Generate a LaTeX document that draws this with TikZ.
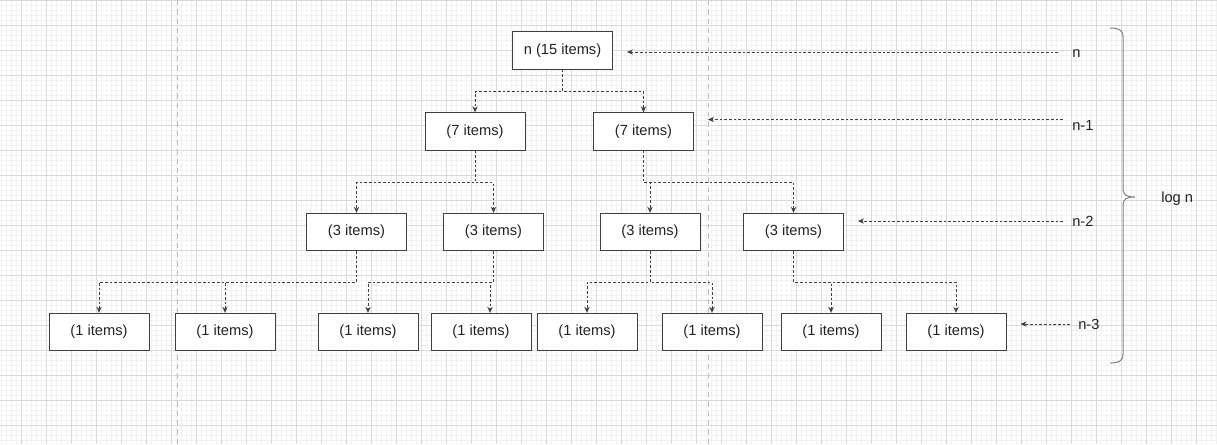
\documentclass[tikz,border=0pt]{standalone}
\usepackage{fontspec}
\setmainfont{Liberation Sans}
\usetikzlibrary{arrows.meta}
\definecolor{minorgrid}{HTML}{F2F2F2}
\definecolor{majorgrid}{HTML}{DADADA}
\definecolor{txt}{HTML}{222222}
\tikzset{
  boxnode/.style={draw=black!75, fill=white, line width=0.75pt, minimum width=75pt, minimum height=28pt, inner sep=0pt, font=\fontsize{11pt}{13pt}\selectfont, text=txt},
  conn/.style={draw=black!75, line width=0.75pt, dash pattern=on 2pt off 1.5pt, -{Stealth[length=4.5pt,width=4pt]}},
  lbl/.style={inner sep=0pt, font=\fontsize{11pt}{13pt}\selectfont, text=txt},
  minorline/.style={draw=minorgrid, line width=0.6pt},
  majorline/.style={draw=majorgrid, line width=0.75pt},
  guide/.style={draw=black!25, line width=0.75pt, dash pattern=on 4pt off 3pt},
  bracestyle/.style={draw=black!50, line width=0.75pt}
}
\begin{document}
\begin{tikzpicture}[x=0.75pt,y=-0.75pt]
\useasboundingbox (0,0) rectangle (1217,444);
\fill[white] (0,0) rectangle (1217,444);
% grid
\foreach \i in {1,6,...,1216} \draw[minorline] (\i,0) -- (\i,444);
\foreach \j in {5,10,...,444} \draw[minorline] (0,\j) -- (1217,\j);
\foreach \i in {21,46,...,1217} \draw[majorline] (\i,0) -- (\i,444);
\foreach \j in {0,25,...,444} \draw[majorline] (0,\j) -- (1217,\j);
\draw[guide] (177,0) -- (177,444);
\draw[guide] (708,0) -- (708,444);

% tree nodes
\node[boxnode] (top) at (562.5,50.5) {n (15 items)};
\node[boxnode] (l1a) at (475,131.5) {(7 items)};
\node[boxnode] (l1b) at (643.5,131.5) {(7 items)};
\node[boxnode] (l2a) at (356.5,232) {(3 items)};
\node[boxnode] (l2b) at (493.5,232) {(3 items)};
\node[boxnode] (l2c) at (650,232) {(3 items)};
\node[boxnode] (l2d) at (793.5,232) {(3 items)};
\node[boxnode] (l3a) at (99,332) {(1 items)};
\node[boxnode] (l3b) at (225,332) {(1 items)};
\node[boxnode] (l3c) at (368,332) {(1 items)};
\node[boxnode] (l3d) at (481,332) {(1 items)};
\node[boxnode] (l3e) at (587,332) {(1 items)};
\node[boxnode] (l3f) at (712,332) {(1 items)};
\node[boxnode] (l3g) at (831,332) {(1 items)};
\node[boxnode] (l3h) at (956,332) {(1 items)};

% connectors
\draw[conn] (top.south) -- ++(0,22) -| (l1a.north);
\draw[conn] (top.south) -- ++(0,22) -| (l1b.north);
\draw[conn] (l1a.south) -- ++(0,32) -| (l2a.north);
\draw[conn] (l1a.south) -- ++(0,32) -| (l2b.north);
\draw[conn] (l1b.south) -- ++(0,32) -| (l2c.north);
\draw[conn] (l1b.south) -- ++(0,32) -| (l2d.north);
\draw[conn] (l2a.south) -- ++(0,31) -| (l3a.north);
\draw[conn] (l2a.south) -- ++(0,31) -| (l3b.north);
\draw[conn] (l2b.south) -- ++(0,31) -| (l3c.north);
\draw[conn] (l2b.south) -- ++(0,31) -| ([xshift=6.75pt]l3d.north);
\draw[conn] (l2c.south) -- ++(0,31) -| (l3e.north);
\draw[conn] (l2c.south) -- ++(0,31) -| (l3f.north);
\draw[conn] (l2d.south) -- ++(0,31) -| (l3g.north);
\draw[conn] (l2d.south) -- ++(0,31) -| (l3h.north);

% level labels
\node[lbl, anchor=base west] (ln) at (1072,57) {n};
\node[lbl, anchor=base west] (ln1) at (1072,130) {n-1};
\node[lbl, anchor=base west] (ln2) at (1072,226) {n-2};
\node[lbl, anchor=base west] (ln3) at (1078,329) {n-3};
\node[lbl, anchor=base west] (logn) at (1161,202) {log n};

\coordinate (sn) at (1058,52);
\coordinate (sn1) at (1063,119.5);
\coordinate (sn2) at (1063,221);
\coordinate (sn3) at (1070,324);
\draw[conn, shorten >=10.5pt] (sn) -- (sn -| top.east);
\draw[conn, shorten >=10.5pt] (sn1) -- (sn1 -| l1b.east);
\draw[conn, shorten >=10.5pt] (sn2) -- (sn2 -| l2d.east);
\draw[conn, shorten >=10.5pt] (sn3) -- (sn3 -| l3h.east);

% brace
\draw[bracestyle] (1110,28) .. controls (1119,28) and (1123,30) .. (1123,37)
  -- (1123,188) .. controls (1123,195) and (1126,197) .. (1135,197)
  .. controls (1126,197) and (1123,199) .. (1123,206)
  -- (1123,354) .. controls (1123,361) and (1119,363) .. (1110,363);
\end{tikzpicture}
\end{document}
